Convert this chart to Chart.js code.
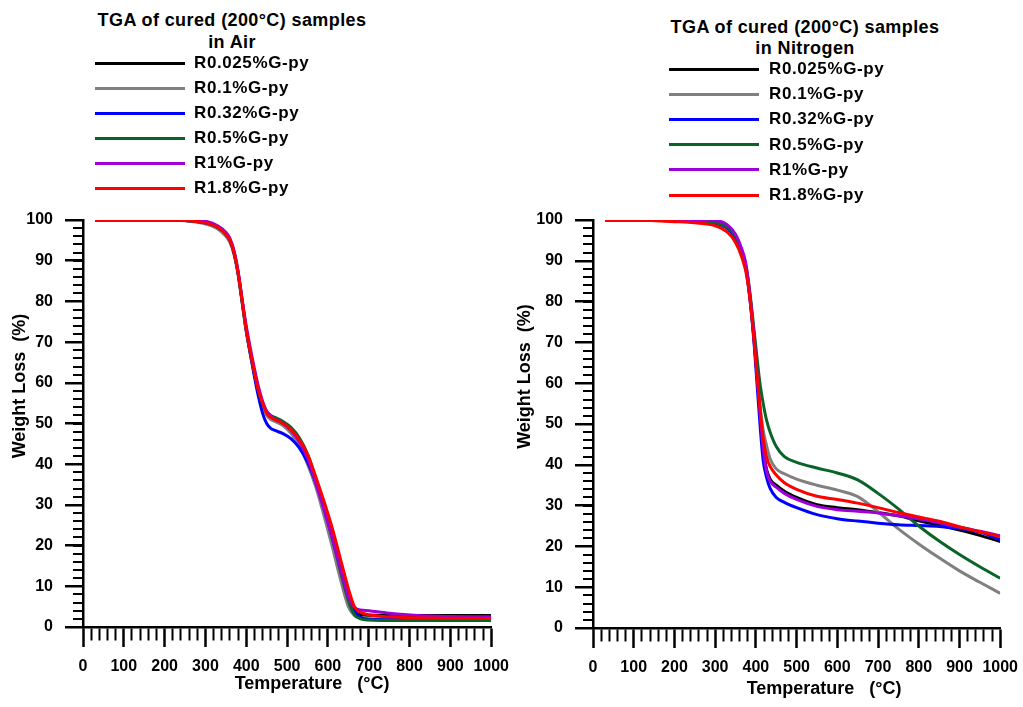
<!DOCTYPE html>
<html>
<head>
<meta charset="utf-8">
<script src="https://cdn.jsdelivr.net/npm/chart.js@4.4.1/dist/chart.umd.min.js"></script>
<style>
  body { margin: 0; background: #ffffff; }
  #wrap { position: relative; width: 1023px; height: 707px; background: #ffffff; overflow: hidden;
          font-family: Arial, "Liberation Sans", sans-serif; font-weight: bold; color: #000; }
  canvas { position: absolute; top: 195px; }
  .title { position: absolute; width: 340px; text-align: center; font-size: 18px; letter-spacing: 0.4px; z-index: 2; }
  .row { position: absolute; height: 22px; line-height: 22px; font-size: 17px; letter-spacing: 0.6px; z-index: 2; white-space: nowrap; }
  .row .swatch { position: absolute; top: 9.5px; height: 3px; width: 90px; }
  .row .txt { position: absolute; top: 0; }
</style>
</head>
<body>
<div id="wrap">
  <canvas id="airChart" width="519" height="512" style="left:0px"></canvas>
  <canvas id="n2Chart" width="517" height="512" style="left:511px"></canvas>
</div>
<script>
const seriesLabels = ['R0.025%G-py', 'R0.1%G-py', 'R0.32%G-py', 'R0.5%G-py', 'R1%G-py', 'R1.8%G-py'];
const seriesColors = ['#000000', '#808080', '#0000ff', '#0a6428', '#a000d8', '#ff0000'];

// TGA in air
const airTemps  = [30, 100, 200, 250, 300, 330, 350, 360, 370, 380, 390, 400, 410, 420, 430, 440, 450, 460, 470, 490, 510, 530, 550, 570, 590, 610, 630, 650, 665, 680, 700, 750, 850, 1000];
const airBlack  = [100, 100, 100, 99.9, 99.2, 98, 96.3, 94.8, 91.8, 86.8, 79.8, 72.8, 67.3, 62.3, 57.8, 54.8, 52.3, 51.3, 50.8, 49.8, 48, 45.3, 41.5, 35.5, 29, 22, 14.5, 7, 3.8, 3, 2.9, 2.8, 2.8, 2.8];
const airGray   = [100, 100, 100, 99.8, 99.0, 97.8, 96, 94.5, 91.5, 86.5, 79.5, 72.5, 67, 62, 57.5, 54.5, 52, 51, 50.5, 49.5, 47.5, 44.5, 40, 34.5, 27.5, 20, 12, 5, 2.8, 2.2, 2.0, 2.0, 2.0, 2.0];
const airBlue   = [100, 100, 100, 99.9, 99.3, 98.2, 96.5, 95, 92, 87, 80, 73, 67, 61.5, 56.5, 52.5, 50, 48.8, 48.3, 47.5, 46.2, 44, 40.5, 35.5, 29.5, 23, 15.5, 8, 4, 2.4, 1.9, 1.8, 1.8, 1.8];
const airGreen  = [100, 100, 100, 99.9, 99.3, 98.2, 96.5, 95, 92, 87, 80, 73, 67.5, 62.5, 58, 55, 53, 52, 51.5, 50.5, 49, 46.5, 42.5, 36.5, 29.5, 22, 14, 6.5, 3, 2, 1.7, 1.6, 1.6, 1.6];
const airPurple = [100, 100, 100, 100, 99.7, 98.6, 97, 95.5, 92.5, 87.5, 80.5, 74, 68.5, 63.5, 59, 55.5, 53, 51.8, 51, 50, 48.2, 45.5, 41.5, 35.5, 29, 22, 14.5, 7.5, 4.8, 4.2, 4.0, 3.4, 2.7, 2.5];
const airRed    = [100, 100, 100, 99.9, 99.3, 98.2, 96.5, 95, 92, 87, 80, 73, 67.5, 62.5, 58, 55, 52.5, 51.5, 51, 50, 48.5, 46, 42.5, 37, 31, 24.5, 17, 9.5, 5, 3.6, 3, 2.5, 2.2, 2.1];

// TGA in nitrogen
const n2Temps  = [30, 100, 200, 250, 300, 330, 350, 365, 375, 385, 395, 402, 410, 418, 426, 435, 450, 470, 500, 550, 600, 650, 700, 750, 800, 850, 900, 950, 1000];
const n2Black  = [100, 100, 99.8, 99.6, 99.2, 98, 95.5, 92, 88.5, 81.5, 71.5, 63, 53, 44.5, 39, 36.5, 35, 33.5, 32, 30.2, 29.5, 29, 28.3, 27.5, 26.3, 25.2, 24, 22.7, 21.2];
const n2Gray   = [100, 100, 99.8, 99.6, 99.2, 98, 95.5, 92, 88.5, 81.5, 72, 64, 55, 48.5, 44.8, 41.5, 39, 37.8, 36.5, 35, 33.8, 32.2, 28.5, 24.3, 20.6, 17.2, 14, 11.2, 8.5];
const n2Blue   = [100, 100, 99.8, 99.6, 99.2, 98, 95.5, 92, 88.5, 81, 70.5, 61, 50, 41, 37, 34.2, 32, 30.8, 29.5, 27.8, 26.8, 26.2, 25.7, 25.3, 25.1, 24.9, 24.4, 23.5, 21.6];
const n2Green  = [100, 100, 99.8, 99.6, 99.3, 98.2, 96, 92.5, 89, 82.5, 73.5, 67, 60, 55, 51, 48, 44.5, 42, 40.6, 39.2, 38, 36.3, 33, 29.2, 25, 21.3, 18, 15, 12.2];
const n2Purple = [100, 100, 100, 100, 99.9, 98.8, 96.5, 93, 89.5, 82, 72, 63, 53, 44, 38.5, 36, 34.5, 33, 31.5, 29.8, 29, 28.6, 28.2, 27.5, 26.7, 25.8, 24.7, 23.7, 22.6];
const n2Red    = [100, 100, 99.6, 99.3, 98.6, 97, 94.5, 91, 87.5, 81, 71, 63, 54, 46.5, 42, 39.6, 37.5, 35.6, 34, 32.3, 31.5, 30.6, 29.5, 28.3, 27.2, 26.2, 24.8, 23.6, 22.4];

const xMajorStep = 100, xMinorStep = 20;
const yMajorStep = 10, yMinorStep = 2;

const tickFont = { family: 'Arial, "Liberation Sans", sans-serif', size: 16, weight: 'bold' };
const titleFont = { family: 'Arial, "Liberation Sans", sans-serif', size: 18, weight: 'bold' };

const isMajor = (v, step) => Math.abs(v / step - Math.round(v / step)) < 1e-6;

function drawTGA(canvasId, temps, series, p) {
  const ctx = document.getElementById(canvasId).getContext('2d');
  return new Chart(ctx, {
    type: 'line',
    data: {
      datasets: series.map((vals, i) => ({
        label: seriesLabels[i],
        data: temps.map((t, j) => ({ x: t, y: vals[j] })),
        borderColor: seriesColors[i],
        backgroundColor: seriesColors[i],
        borderWidth: 3,
        pointRadius: 0,
        cubicInterpolationMode: 'monotone',
        fill: false,
        xAxisID: 'x',
        yAxisID: 'y',
        order: seriesLabels.length - i
      }))
    },
    options: {
      responsive: false,
      animation: false,
      layout: { padding: { left: 0, right: 0, top: 25, bottom: 0 } },
      plugins: { legend: { display: false }, tooltip: { enabled: false } },
      scales: {
        x: {
          type: 'linear', position: 'bottom', min: 0, max: 1000,
          ticks: {
            stepSize: xMinorStep, autoSkip: false, maxRotation: 0, padding: 10, color: '#000', font: tickFont,
            callback: v => isMajor(v, xMajorStep) ? String(v) : ''
          },
          grid: {
            drawOnChartArea: false, drawTicks: true, tickLength: 20, color: '#000',
            tickWidth: c => isMajor(c.tick.value, xMajorStep) ? 2.5 : 2,
            // minor ticks: 12px from the axis, rest blank
            tickBorderDash: c => isMajor(c.tick.value, xMajorStep) ? [] : [12, 20]
          },
          border: { display: true, color: '#000', width: 2.5 },
          title: { display: true, text: ' '.repeat(p.xSpaces) + 'Temperature   (°C)', color: '#000', font: titleFont, padding: { top: 0, bottom: p.xTitlePad } },
          afterFit: s => { s.height = p.xHeight; }
        },
        y: {
          type: 'linear', position: 'left', min: 0, max: 100,
          ticks: { stepSize: yMajorStep, autoSkip: false, padding: 12, color: '#000', font: tickFont, callback: v => String(v) },
          grid: { drawOnChartArea: false, drawTicks: true, tickLength: 18, color: '#000', lineWidth: 2.5 },
          border: { display: true, color: '#000', width: 2.5 },
          title: { display: true, text: ' '.repeat(p.ySpaces) + 'Weight Loss  (%)', color: '#000', font: titleFont, padding: { top: p.yTitlePad, bottom: 0 } },
          afterFit: s => { s.width = p.yWidth; }
        },
        // minor y ticks, pinned on the x = 0 line
        yMinor: {
          axis: 'y', type: 'linear', position: { x: 0 }, min: 0, max: 100,
          ticks: { stepSize: yMinorStep, autoSkip: false, display: false },
          grid: { drawOnChartArea: false, drawTicks: true, tickLength: 10, color: '#000', lineWidth: 2 },
          border: { display: false }
        }
      }
    }
  });
}

function addLegend(titleLines, titleLeft, titleTop, titleLineHeight, lineX, textX, rowY0, rowStep) {
  const wrap = document.getElementById('wrap');
  const title = document.createElement('div');
  title.className = 'title';
  title.style.left = titleLeft + 'px';
  title.style.top = titleTop + 'px';
  title.style.lineHeight = titleLineHeight + 'px';
  title.innerHTML = titleLines.join('<br>');
  wrap.appendChild(title);
  seriesLabels.forEach((label, i) => {
    const row = document.createElement('div');
    row.className = 'row';
    row.style.left = lineX + 'px';
    row.style.top = (rowY0 + i * rowStep - 11) + 'px';
    const sw = document.createElement('span');
    sw.className = 'swatch';
    sw.style.left = '0px';
    sw.style.background = seriesColors[i];
    const tx = document.createElement('span');
    tx.className = 'txt';
    tx.style.left = (textX - lineX) + 'px';
    tx.textContent = label;
    row.appendChild(sw);
    row.appendChild(tx);
    wrap.appendChild(row);
  });
}

drawTGA('airChart', airTemps, [airBlack, airGray, airBlue, airGreen, airPurple, airRed],
  { xHeight: 80, yWidth: 83, xSpaces: 10, ySpaces: 15, xTitlePad: 12, yTitlePad: 9 });
drawTGA('n2Chart', n2Temps, [n2Black, n2Gray, n2Blue, n2Green, n2Purple, n2Red],
  { xHeight: 79, yWidth: 82, xSpaces: 11, ySpaces: 19, xTitlePad: 7, yTitlePad: 3 });

addLegend(['TGA of cured (200°C) samples', 'in Air'], 232 - 170, 9, 22, 95, 194, 63, 25);
addLegend(['TGA of cured (200°C) samples', 'in Nitrogen'], 805 - 170, 16.5, 21, 669, 769, 69, 25.2);
</script>
</body>
</html>
